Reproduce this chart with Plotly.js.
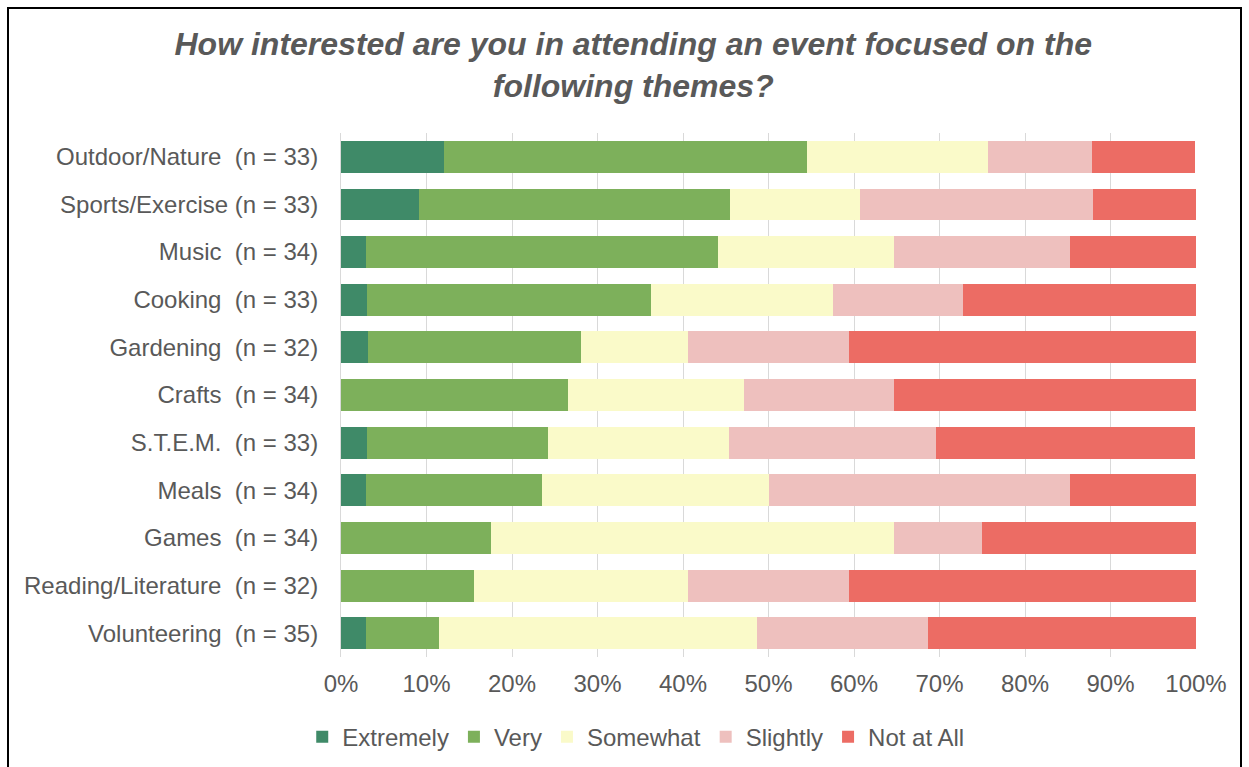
<!DOCTYPE html>
<html>
<head>
<meta charset="utf-8">
<script src="https://cdn.plot.ly/plotly-3.0.1.min.js"></script>
<style>
html,body{margin:0;padding:0;background:#fff;}
#wrap{position:relative;width:1249px;height:767px;}
#chart{width:1249px;height:767px;}
#frame{position:absolute;left:7px;top:7px;width:1235px;height:780px;border:2px solid #000;pointer-events:none;box-sizing:border-box;}
</style>
</head>
<body>
<div id="wrap">
<div id="chart"></div>
<div id="frame"></div>
</div>
<script>
const NB = '\u00A0';
const categories = [
  'Outdoor/Nature' + NB + NB + '(n = 33)',
  'Sports/Exercise' + NB + '(n = 33)',
  'Music' + NB + NB + '(n = 34)',
  'Cooking' + NB + NB + '(n = 33)',
  'Gardening' + NB + NB + '(n = 32)',
  'Crafts' + NB + NB + '(n = 34)',
  'S.T.E.M.' + NB + NB + '(n = 33)',
  'Meals' + NB + NB + '(n = 34)',
  'Games' + NB + NB + '(n = 34)',
  'Reading/Literature' + NB + NB + '(n = 32)',
  'Volunteering' + NB + NB + '(n = 35)'
];
const seriesNames = ['Extremely', 'Very', 'Somewhat', 'Slightly', 'Not at All'];
const extremely = [12.1, 9.1, 2.9, 3.0, 3.1, 0, 3.0, 2.9, 0, 0, 2.9];
const very      = [42.4, 36.4, 41.2, 33.3, 25.0, 26.5, 21.2, 20.6, 17.6, 15.6, 8.6];
const somewhat  = [21.2, 15.2, 20.6, 21.2, 12.5, 20.6, 21.2, 26.5, 47.1, 25.0, 37.1];
const slightly  = [12.1, 27.3, 20.6, 15.2, 18.8, 17.6, 24.2, 35.3, 10.3, 18.8, 20.0];
const notAtAll  = [12.1, 12.1, 14.7, 27.3, 40.6, 35.3, 30.3, 14.7, 25.0, 40.6, 31.4];
const tickVals = [0, 10, 20, 30, 40, 50, 60, 70, 80, 90, 100];
const tickText = ['0%', '10%', '20%', '30%', '40%', '50%', '60%', '70%', '80%', '90%', '100%'];

const colors = ['#3F8A68', '#7DB05B', '#FAFAC9', '#EEC0BE', '#EC6C64'];
const values = [extremely, very, somewhat, slightly, notAtAll];

const traces = values.map((v, i) => ({
  type: 'bar',
  orientation: 'h',
  name: seriesNames[i],
  x: v,
  y: categories,
  marker: {color: colors[i], line: {width: 0}},
  hoverinfo: 'skip'
}));

const layout = {
  width: 1249, height: 767,
  paper_bgcolor: '#ffffff', plot_bgcolor: '#ffffff',
  barmode: 'stack',
  bargap: 0.33,
  margin: {l: 341, r: 53, t: 133, b: 110},
  font: {family: 'Liberation Sans, Arial, sans-serif', color: '#595959', size: 24},
  title: {
    text: '<b><i>How interested are you in attending an event focused on the<br>following themes?</i></b>',
    x: 0.507, xref: 'container', xanchor: 'center',
    y: 0.928, yref: 'container', yanchor: 'middle',
    font: {family: 'Liberation Sans, Arial, sans-serif', size: 32, color: '#595959'}
  },
  xaxis: {
    range: [0, 100],
    tickvals: tickVals, ticktext: tickText,
    showgrid: true, gridcolor: '#D9D9D9', gridwidth: 1,
    zeroline: false, showline: false,
    ticks: '', ticklabelstandoff: 10,
    tickfont: {size: 24, color: '#595959'},
    fixedrange: true
  },
  yaxis: {
    autorange: 'reversed',
    showgrid: false, zeroline: false,
    showline: true, linecolor: '#D9D9D9', linewidth: 1,
    ticks: '', ticklabelstandoff: 17,
    tickfont: {size: 24, color: '#595959'},
    fixedrange: true
  },
  showlegend: true,
  legend: {
    orientation: 'h',
    x: 0.509, xref: 'container', xanchor: 'center',
    y: 0.039, yref: 'container', yanchor: 'middle',
    font: {size: 24, color: '#595959'},
    traceorder: 'normal',
    itemwidth: 30,
    bgcolor: 'rgba(0,0,0,0)'
  }
};

Plotly.newPlot('chart', traces, layout, {displayModeBar: false, staticPlot: true});
</script>
</body>
</html>
